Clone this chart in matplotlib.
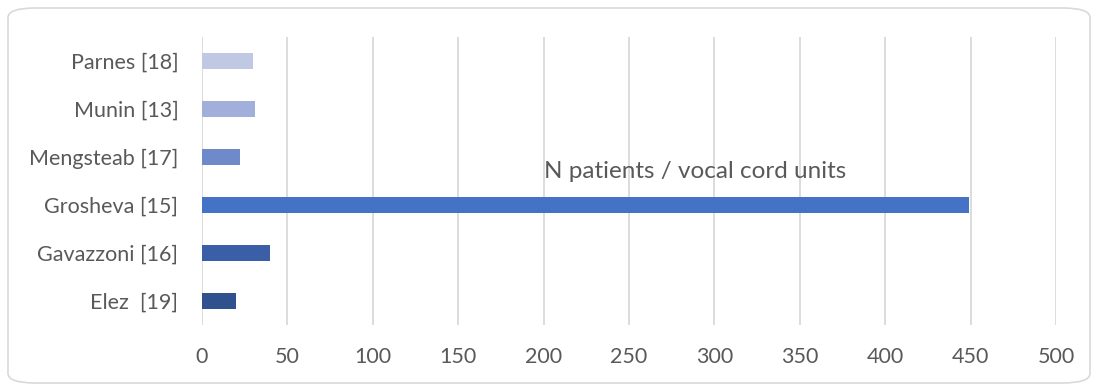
import matplotlib
matplotlib.use("Agg")
import matplotlib.pyplot as plt
from matplotlib.patches import FancyBboxPatch

# study labels, bottom to top
studies = ["Elez  [19]", "Gavazzoni [16]", "Grosheva [15]", "Mengsteab [17]", "Munin [13]", "Parnes [18]"]
n_units = [20, 40, 449, 22, 31, 30]
bar_colors = ["#2F528F", "#3A5FA7", "#4472C4", "#6F8ACB", "#A1AFDA", "#BFC9E4"]
series_name = "N patients / vocal cord units"
x_ticks = [0, 50, 100, 150, 200, 250, 300, 350, 400, 450, 500]

plt.rcParams["font.family"] = ["Lato", "DejaVu Sans"]
text_color = "#595959"

fig = plt.figure(figsize=(10.93, 3.85), dpi=100)
ax = fig.add_axes([202 / 1093, 1 - 325 / 385, (1056 - 202) / 1093, 288 / 385])

y = range(len(studies))
ax.barh(y, n_units, height=0.35, color=bar_colors, zorder=3)

ax.set_xlim(0, 500)
ax.set_ylim(-0.5, len(studies) - 0.5)
ax.set_xticks(x_ticks)
ax.set_yticks(list(y))
ax.set_yticklabels(studies)
ax.grid(axis="x", color="#D9D9D9", linewidth=1.3, zorder=0)
for s in ax.spines.values():
    s.set_visible(False)
ax.tick_params(length=0, labelsize=15.5, colors=text_color)
ax.tick_params(axis="x", pad=16)
ax.tick_params(axis="y", pad=17)

ax.text(289, 2.69, series_name, ha="center", va="center", fontsize=17.5, color=text_color, zorder=4)

# rounded chart border
border = FancyBboxPatch((8 / 1093, 2 / 385), 1082 / 1093, 375 / 385,
                        boxstyle="round,pad=0,rounding_size=0.025",
                        transform=fig.transFigure, fill=False,
                        edgecolor="#D9D9D9", linewidth=1.2)
fig.patches.append(border)

fig.savefig("out.png", dpi=100)
